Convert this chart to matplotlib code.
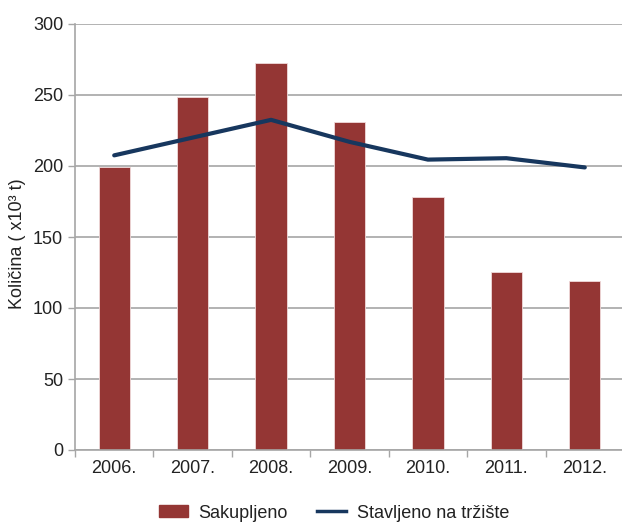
import numpy as np
import matplotlib.pyplot as plt
from matplotlib.lines import Line2D
import matplotlib.patches as mpatches

plt.rcParams['font.family'] = ['Liberation Sans', 'DejaVu Sans']

years = ['2006.', '2007.', '2008.', '2009.', '2010.', '2011.', '2012.']
sakupljeno = [199, 248.5, 272.5, 231, 178.5, 125.5, 119]
stavljeno = [207.5, 220, 232.5, 217, 204.5, 205.5, 199]

bar_color = '#943634'
line_color = '#17375E'
grid_color = '#a6a6a6'

fig = plt.figure(figsize=(6.22, 5.23), dpi=100)
ax = fig.add_axes([75 / 622, 1 - 450 / 523, 549 / 622, 426 / 523])

x = np.arange(len(years))
ax.bar(x, sakupljeno, 0.4, color=bar_color, edgecolor='#f0dada', linewidth=0.6, zorder=2)
ax.plot(x, stavljeno, color=line_color, linewidth=3, zorder=3, solid_capstyle='round')

ax.set_xlim(-0.5, len(years) - 0.5)
ax.set_ylim(0, 300)
ax.set_yticks(np.arange(0, 301, 50))
ax.set_xticks(x)
ax.set_xticklabels(years, fontsize=13, color='#222222')
ax.set_xticks(np.arange(-0.5, len(years), 1), minor=True)
ax.tick_params(axis='y', labelsize=13, labelcolor='#222222', color=grid_color, length=5, width=1)
ax.tick_params(axis='x', which='major', length=0, pad=7)
ax.tick_params(axis='x', which='minor', length=5, color=grid_color, width=1)

ax.yaxis.grid(True, color=grid_color, linewidth=1.2, zorder=0)
ax.set_axisbelow(True)
for s in ['top', 'right']:
    ax.spines[s].set_visible(False)
ax.spines['left'].set_color(grid_color)
ax.spines['bottom'].set_color(grid_color)
ax.spines['left'].set_linewidth(1.2)
ax.spines['bottom'].set_linewidth(1.2)

fig.text(18 / 622, 1 - 244 / 523, 'Količina ( x10³ t)', rotation=90, fontsize=13,
         ha='center', va='center', color='#222222')

handles = [mpatches.Patch(color=bar_color, label='Sakupljeno'),
           Line2D([0], [0], color=line_color, linewidth=2.5, label='Stavljeno na tržište')]
fig.legend(handles=handles, loc='center', bbox_to_anchor=(334 / 622, 1 - 513 / 523), ncol=2,
           frameon=False, fontsize=13, handlelength=1.6, handleheight=0.6,
           columnspacing=1.6, handletextpad=0.6, labelcolor='#222222')

fig.savefig('out.png', dpi=100)
